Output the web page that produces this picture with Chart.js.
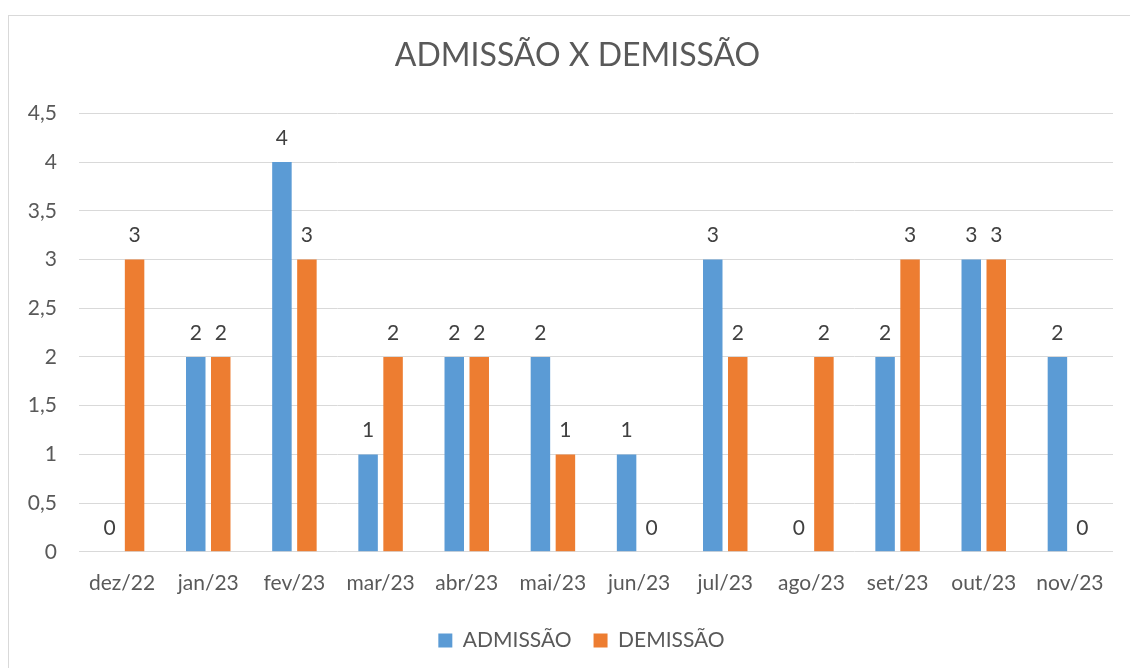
<!DOCTYPE html>
<html>
<head>
<meta charset="utf-8">
<script src="https://cdn.jsdelivr.net/npm/chart.js@4/dist/chart.umd.min.js"></script>
<style>
  html, body { margin: 0; background: #fff; overflow: hidden; width: 1130px; height: 668px; }
  #frame { position: absolute; left: 8px; top: 15px; width: 1200px; height: 700px; border: 1px solid #d9d9d9; }
  #chart { position: absolute; left: 8px; top: 0; }
</style>
</head>
<body>
<div id="frame"></div>
<canvas id="chart" width="1142" height="668"></canvas>
<script>
// Données du graphique
const categories = ["dez/22", "jan/23", "fev/23", "mar/23", "abr/23", "mai/23", "jun/23", "jul/23", "ago/23", "set/23", "out/23", "nov/23"];
const admissao = [0, 2, 4, 1, 2, 2, 1, 3, 0, 2, 3, 2];
const demissao = [3, 2, 3, 2, 2, 1, 0, 2, 2, 3, 3, 0];

// Étiquettes de valeur au-dessus des barres + recentrage titre / légende
const valueLabels = {
  id: "valueLabels",
  afterLayout(chart) {
    chart.titleBlock.left += 17;
    chart.titleBlock.right += 17;
    chart.legend.left += 21;
    chart.legend.right += 21;
    chart.legend.top -= 7;
    chart.legend.bottom -= 7;
  },
  afterDatasetsDraw(chart) {
    const ctx = chart.ctx;
    ctx.save();
    ctx.font = "21px Lato";
    ctx.fillStyle = "#404040";
    ctx.textAlign = "center";
    ctx.textBaseline = "middle";
    chart.data.datasets.forEach((ds, i) => {
      chart.getDatasetMeta(i).data.forEach((bar, j) => {
        ctx.fillText(String(ds.data[j]), bar.x, bar.y - 24);
      });
    });
    ctx.restore();
  },
};

const chart = new Chart(document.getElementById("chart"), {
  type: "bar",
  data: {
    labels: categories,
    datasets: [
      { label: "ADMISSÃO", data: admissao, backgroundColor: "#5B9BD5" },
      { label: "DEMISSÃO", data: demissao, backgroundColor: "#ED7D31" },
    ],
  },
  options: {
    responsive: false,
    devicePixelRatio: 1,
    animation: false,
    categoryPercentage: 0.58,
    barPercentage: 0.78,
    layout: { padding: { left: 0, right: 37, top: 0, bottom: 0 } },
    plugins: {
      title: {
        display: true,
        text: "ADMISSÃO X DEMISSÃO",
        color: "#595959",
        font: { family: "Lato", size: 32, weight: "normal" },
        padding: { top: 36, bottom: 39 },
      },
      legend: {
        position: "bottom",
        labels: {
          color: "#595959",
          font: { family: "Lato", size: 21 },
          boxWidth: 14,
          boxHeight: 14,
          padding: 22,
        },
      },
      tooltip: { enabled: false },
    },
    scales: {
      x: {
        grid: { display: false, drawTicks: false },
        border: { display: false },
        ticks: { color: "#595959", font: { family: "Lato", size: 21 }, padding: 19, maxRotation: 0 },
      },
      y: {
        min: 0,
        max: 4.5,
        afterFit: (s) => { s.width = 71; },
        grid: { color: "#D9D9D9", drawTicks: false },
        border: { display: false },
        ticks: {
          stepSize: 0.5,
          color: "#595959",
          font: { family: "Lato", size: 21 },
          padding: 22,
          callback: (v) => String(v).replace(".", ","),
        },
      },
    },
  },
  plugins: [valueLabels],
});
</script>
</body>
</html>
